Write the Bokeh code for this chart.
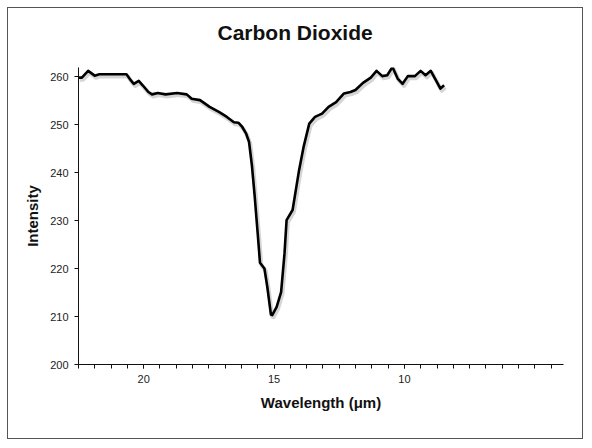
import numpy as np
from bokeh.plotting import figure
from bokeh.models import Range1d, FixedTicker, Title
from bokeh.embed import file_html
from bokeh.resources import INLINE

wavelength = [22.5, 22.37, 22.13, 21.88, 21.7, 20.66, 20.49, 20.38, 20.19, 20.04,
              19.82, 19.68, 19.46, 19.16, 18.72, 18.35, 18.16, 17.84, 17.47, 17.1,
              16.81, 16.54, 16.37, 16.22, 16.07, 15.96, 15.85, 15.75, 15.63, 15.54,
              15.37, 15.26, 15.12, 15.07, 14.9, 14.73, 14.6, 14.52, 14.29, 14.05,
              13.87, 13.65, 13.43, 13.16, 12.91, 12.62, 12.32, 12.07, 11.88, 11.59,
              11.29, 11.07, 10.85, 10.66, 10.46, 10.26, 10.07, 9.87, 9.6, 9.38,
              9.19, 8.99, 8.79, 8.62, 8.48]
intensity = [259.8, 259.8, 261.2, 260.2, 260.5, 260.5, 259.2, 258.5, 259.1, 258.2,
             256.8, 256.3, 256.6, 256.3, 256.6, 256.3, 255.4, 255.1, 253.7, 252.6,
             251.6, 250.5, 250.4, 249.5, 248.1, 246.4, 241.5, 235.5, 227.5, 221.2,
             220.0, 216.2, 210.4, 210.3, 212.0, 215.1, 223.1, 230.1, 232.2, 240.2,
             245.3, 250.2, 251.6, 252.3, 253.7, 254.7, 256.5, 256.8, 257.2, 258.7,
             259.8, 261.2, 260.1, 260.3, 262.0, 259.6, 258.5, 260.1, 260.1, 261.2,
             260.3, 261.2, 259.2, 257.5, 258.2]

x_labeled_ticks = [20, 15, 10]
y_ticks = [200, 210, 220, 230, 240, 250, 260]
x_minor_ticks = list(np.arange(22.5, 4.0, -0.625))

FONT = "Liberation Sans"

p = figure(width=576, height=432, output_backend="svg", toolbar_location=None,
           x_range=Range1d(22.5, 3.9), y_range=Range1d(200, 261.9),
           min_border_left=70, min_border_right=21, min_border_top=59, min_border_bottom=76)
p.styles = {"border": "1px solid #555555", "margin": "7px 0 0 7px"}

# invisible spacer between the frame and the title
p.add_layout(Title(text=" ", text_font_size="1px", standoff=19), "above")

p.title.text = "Carbon Dioxide"
p.title.align = "left"
p.title.vertical_align = "top"
p.title.offset = 139
p.title.standoff = 0
p.title.text_font = FONT
p.title.text_font_size = "21px"
p.title.text_font_style = "bold"
p.title.text_color = "#111111"

p.xgrid.visible = False
p.ygrid.visible = False
p.outline_line_color = None

# soft shadow under the line
p.extra_x_ranges = {"sx": Range1d(22.5 + 0.05, 3.9 + 0.05)}
p.extra_y_ranges = {"sy": Range1d(200 + 0.45, 261.9 + 0.45)}
p.line(wavelength, intensity, x_range_name="sx", y_range_name="sy",
       line_color="#888888", line_alpha=0.35, line_width=4, line_join="round")
p.line(wavelength, intensity, line_color="black", line_width=2.6, line_join="round")

for ax in (p.xaxis[0], p.yaxis[0]):
    ax.axis_line_color = "#111111"
    ax.axis_line_width = 1
    ax.major_tick_line_color = "#111111"
    ax.minor_tick_line_color = "#111111"
    ax.major_tick_in = 0
    ax.major_tick_out = 4
    ax.minor_tick_in = 0
    ax.minor_tick_out = 4
    ax.major_label_text_font = FONT
    ax.major_label_text_font_size = "11px"
    ax.major_label_text_color = "#222222"
    ax.axis_label_text_font = FONT
    ax.axis_label_text_font_size = "15px"
    ax.axis_label_text_font_style = "bold"
    ax.axis_label_text_color = "#111111"

p.xaxis.ticker = FixedTicker(ticks=x_labeled_ticks, minor_ticks=x_minor_ticks)
p.yaxis.ticker = FixedTicker(ticks=y_ticks, minor_ticks=[])
p.xaxis.axis_label = "Wavelength (μm)"
p.yaxis.axis_label = "Intensity"
p.xaxis.major_label_standoff = 6
p.yaxis.major_label_standoff = 6
p.xaxis.axis_label_standoff = 8
p.yaxis.axis_label_standoff = 6

open("out.html", "w").write(file_html(p, INLINE))
